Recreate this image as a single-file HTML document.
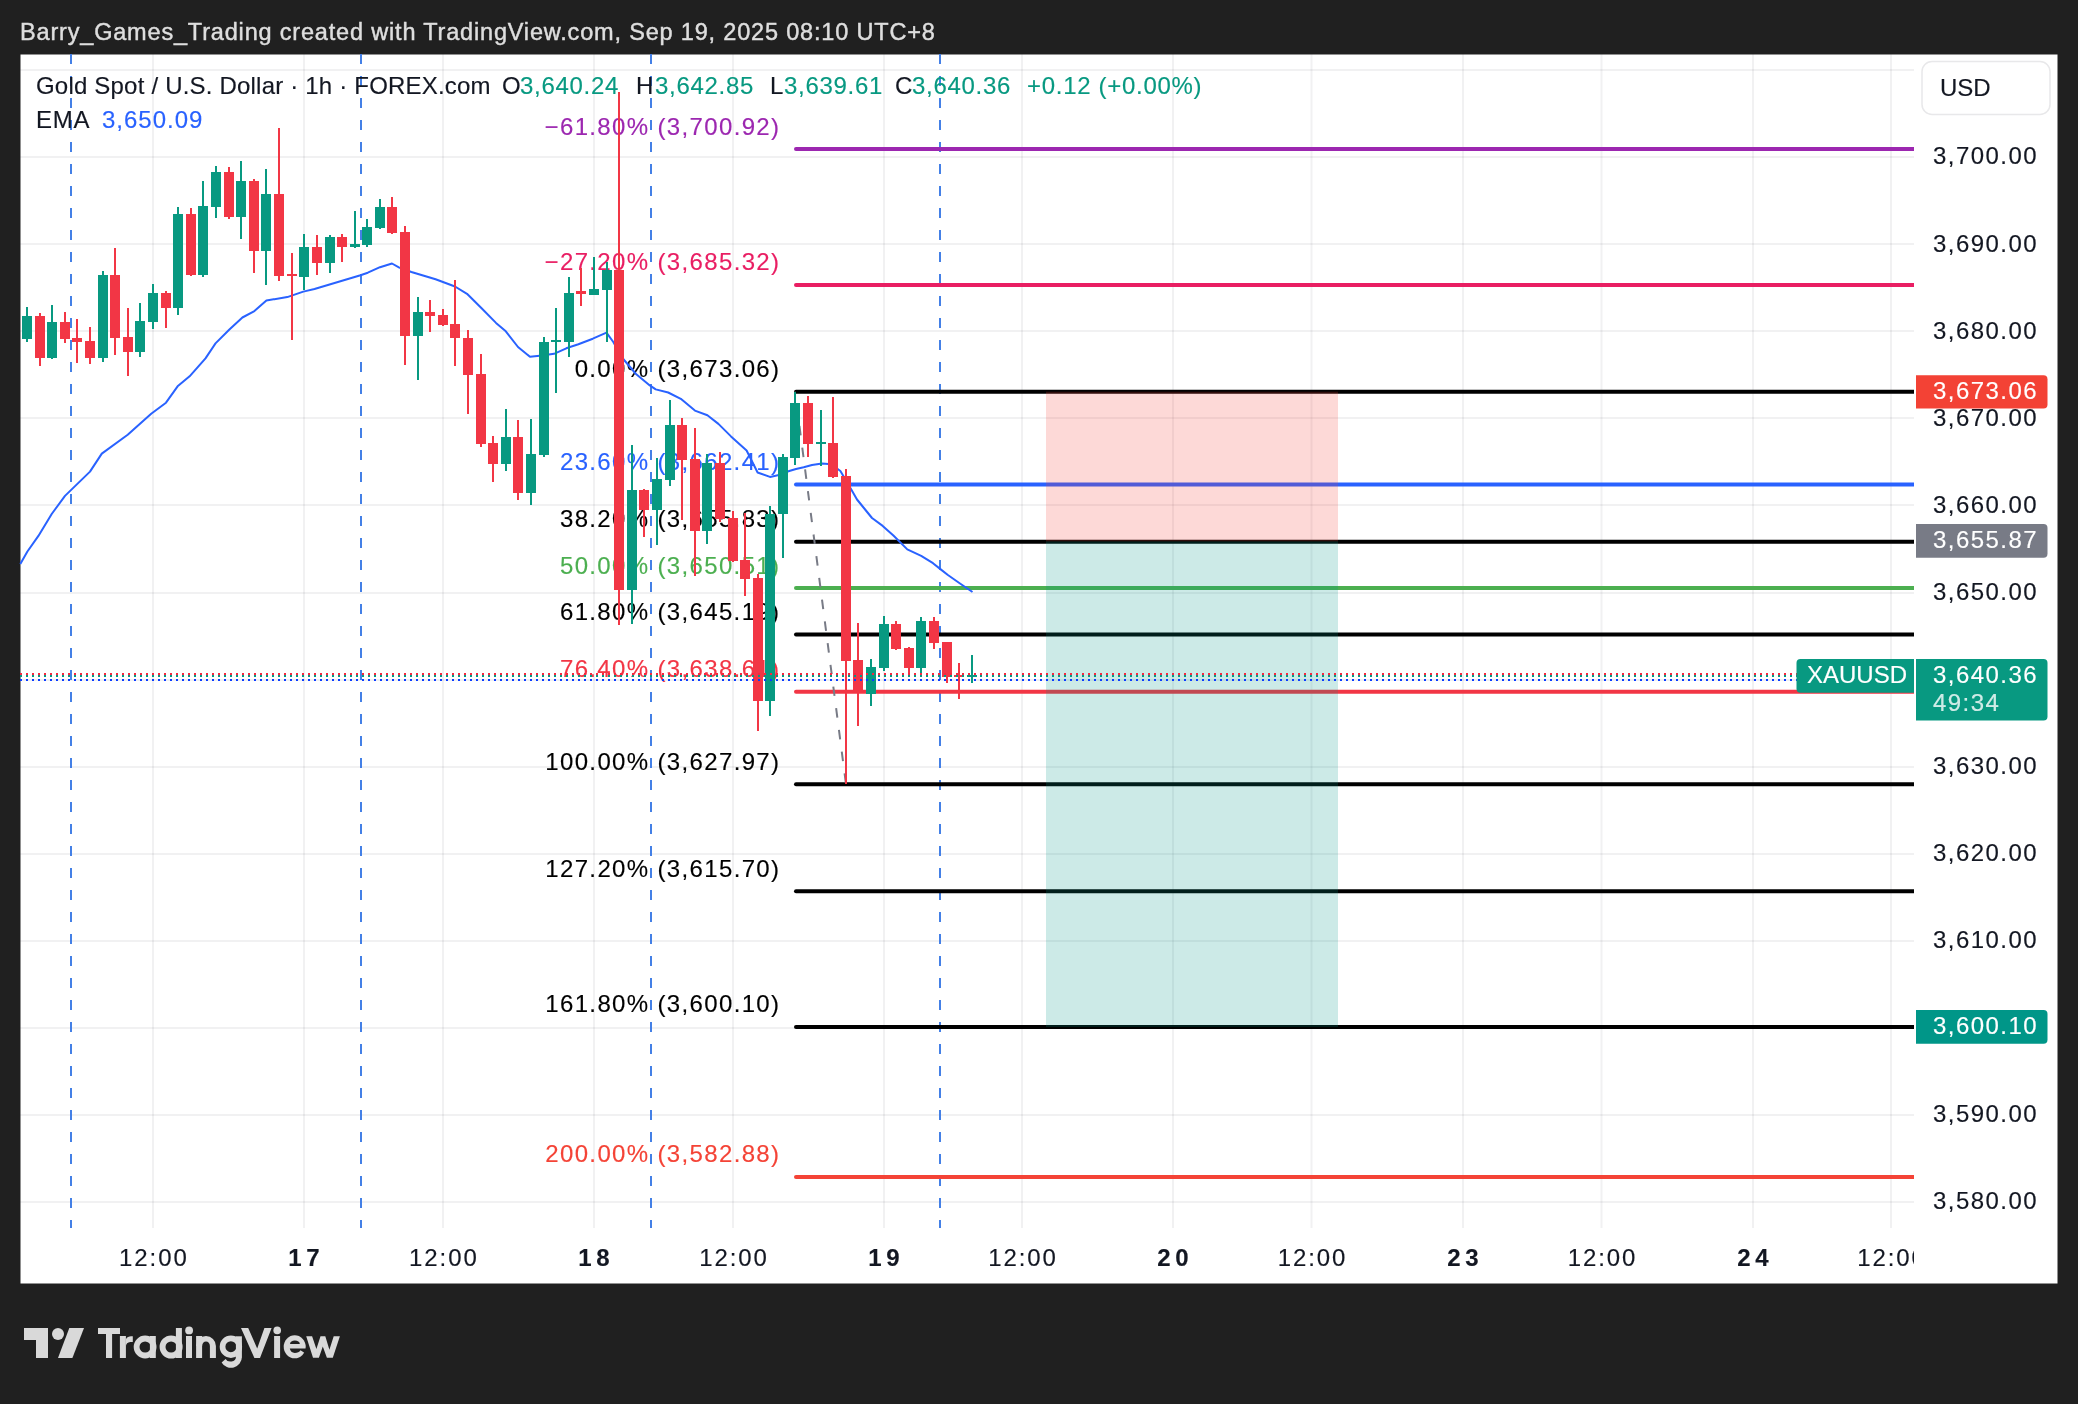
<!DOCTYPE html><html><head><meta charset="utf-8"><style>html,body{margin:0;padding:0;background:#202020;}body{width:2078px;height:1404px;overflow:hidden;}svg{display:block;}text{font-family:"Liberation Sans",sans-serif;will-change:transform;}</style></head><body>
<svg width="2078" height="1404" viewBox="0 0 2078 1404">
<rect x="0" y="0" width="2078" height="1404" fill="#202020"/>
<rect x="20.5" y="54.5" width="2037" height="1229" fill="#ffffff"/>
<g fill="rgba(42,46,57,0.065)">
<rect x="20" y="69" width="1894" height="2"/>
<rect x="20" y="156" width="1894" height="2"/>
<rect x="20" y="243" width="1894" height="2"/>
<rect x="20" y="330" width="1894" height="2"/>
<rect x="20" y="417" width="1894" height="2"/>
<rect x="20" y="504" width="1894" height="2"/>
<rect x="20" y="592" width="1894" height="2"/>
<rect x="20" y="679" width="1894" height="2"/>
<rect x="20" y="766" width="1894" height="2"/>
<rect x="20" y="853" width="1894" height="2"/>
<rect x="20" y="940" width="1894" height="2"/>
<rect x="20" y="1027" width="1894" height="2"/>
<rect x="20" y="1114" width="1894" height="2"/>
<rect x="20" y="1201" width="1894" height="2"/>
<rect x="152" y="54" width="2" height="1174"/>
<rect x="303" y="54" width="2" height="1174"/>
<rect x="442" y="54" width="2" height="1174"/>
<rect x="593" y="54" width="2" height="1174"/>
<rect x="732" y="54" width="2" height="1174"/>
<rect x="883" y="54" width="2" height="1174"/>
<rect x="1021" y="54" width="2" height="1174"/>
<rect x="1172" y="54" width="2" height="1174"/>
<rect x="1310.5" y="54" width="2" height="1174"/>
<rect x="1462" y="54" width="2" height="1174"/>
<rect x="1600.5" y="54" width="2" height="1174"/>
<rect x="1752" y="54" width="2" height="1174"/>
<rect x="1890" y="54" width="2" height="1174"/>
</g>
<g stroke="#4480e6" stroke-width="2" stroke-dasharray="10 12">
<line x1="71" y1="54" x2="71" y2="1228"/>
<line x1="361" y1="54" x2="361" y2="1228"/>
<line x1="651" y1="54" x2="651" y2="1228"/>
<line x1="940" y1="54" x2="940" y2="1228"/>
</g>
<clipPath id="pc"><rect x="20" y="54" width="1894" height="1174"/></clipPath>
<g stroke-width="4" stroke-linecap="round" clip-path="url(#pc)">
<line x1="796" y1="149.1" x2="1920" y2="149.1" stroke="#9c27b0"/>
<line x1="796" y1="284.9" x2="1920" y2="284.9" stroke="#e91e63"/>
<line x1="796" y1="391.7" x2="1920" y2="391.7" stroke="#000000"/>
<line x1="796" y1="484.4" x2="1920" y2="484.4" stroke="#2962ff"/>
<line x1="796" y1="541.7" x2="1920" y2="541.7" stroke="#000000"/>
<line x1="796" y1="588.1" x2="1920" y2="588.1" stroke="#4caf50"/>
<line x1="796" y1="634.4" x2="1920" y2="634.4" stroke="#000000"/>
<line x1="796" y1="691.7" x2="1920" y2="691.7" stroke="#f23645"/>
<line x1="796" y1="784.3" x2="1920" y2="784.3" stroke="#000000"/>
<line x1="796" y1="891.2" x2="1920" y2="891.2" stroke="#000000"/>
<line x1="796" y1="1027.0" x2="1920" y2="1027.0" stroke="#000000"/>
<line x1="796" y1="1177.0" x2="1920" y2="1177.0" stroke="#f44336"/>
</g>
<rect x="1046" y="391.7" width="292" height="149.7" fill="rgba(244,67,54,0.2)"/>
<rect x="1046" y="541.4" width="292" height="485.6" fill="rgba(0,150,136,0.2)"/>
<g font-size="24" text-anchor="end" letter-spacing="1.35">
<text x="780.4" y="134.5" fill="#9c27b0" stroke="#9c27b0" stroke-width="0.15">−61.80% (3,700.92)</text>
<text x="780.4" y="270.3" fill="#e91e63" stroke="#e91e63" stroke-width="0.15">−27.20% (3,685.32)</text>
<text x="780.4" y="377.1" fill="#000000" stroke="#000000" stroke-width="0.15">0.00% (3,673.06)</text>
<text x="780.4" y="469.8" fill="#2962ff" stroke="#2962ff" stroke-width="0.15">23.60% (3,662.41)</text>
<text x="780.4" y="527.1" fill="#000000" stroke="#000000" stroke-width="0.15">38.20% (3,655.83)</text>
<text x="780.4" y="573.5" fill="#4caf50" stroke="#4caf50" stroke-width="0.15">50.00% (3,650.51)</text>
<text x="780.4" y="619.8" fill="#000000" stroke="#000000" stroke-width="0.15">61.80% (3,645.19)</text>
<text x="780.4" y="677.1" fill="#f23645" stroke="#f23645" stroke-width="0.15">76.40% (3,638.61)</text>
<text x="780.4" y="769.7" fill="#000000" stroke="#000000" stroke-width="0.15">100.00% (3,627.97)</text>
<text x="780.4" y="876.6" fill="#000000" stroke="#000000" stroke-width="0.15">127.20% (3,615.70)</text>
<text x="780.4" y="1012.4" fill="#000000" stroke="#000000" stroke-width="0.15">161.80% (3,600.10)</text>
<text x="780.4" y="1162.4" fill="#f44336" stroke="#f44336" stroke-width="0.15">200.00% (3,582.88)</text>
</g>
<line x1="846" y1="784.3" x2="795" y2="391.7" stroke="#787b86" stroke-width="2" stroke-dasharray="9.5 12.4" stroke-dashoffset="-1.5"/>
<polyline points="20.3,564 27.4,551.5 38.4,535.9 51.7,514 65,495.9 90,471.6 101.8,453.6 127.7,434.8 151.2,413.7 166,402.7 177.6,386.3 189.6,376.3 205.5,358.4 215.5,343.4 229.4,329.5 242.4,317.5 254.4,311.1 266.4,300.5 287.3,297.1 303.3,291.6 314.5,289 360.5,275.2 367.8,272.7 380,267.2 392,263.5 399.3,267.6 411.4,272 435.6,279.3 455,286.5 467,293.8 481.6,308.3 496,322.9 505.8,331.3 518,347 530,356.8 542,355.5 554,353.8 566.3,348.3 578.4,344.2 592.8,338.7 606.5,332.6 613.3,342 622.4,358 636,374 649.8,385.4 655.7,389.4 668.2,392.5 680.8,398.8 694.9,410.6 707.4,415.3 718.4,423.9 731,436.4 746.6,450.5 757.6,472.5 770,476.9 780,474.8 788.4,471.3 796,469 803.7,467.2 812,465 822,463.4 831.3,464.3 840.4,471 851,489 857,499.5 872,518 882.7,525.9 893.4,535.5 907.3,549.4 921.2,555.8 933,563.2 940.4,569.1 947.9,575 960,583.5 972.5,592" fill="none" stroke="#2962ff" stroke-width="2" stroke-linejoin="round"/>
<rect x="26" y="307" width="2" height="35" fill="#089981"/>
<rect x="22" y="316" width="10" height="23" fill="#089981"/>
<rect x="39" y="313" width="2" height="53" fill="#f23645"/>
<rect x="35" y="316" width="10" height="42" fill="#f23645"/>
<rect x="51" y="305" width="2" height="54" fill="#089981"/>
<rect x="47" y="322" width="10" height="36" fill="#089981"/>
<rect x="64" y="312" width="2" height="31" fill="#f23645"/>
<rect x="60" y="322" width="10" height="17" fill="#f23645"/>
<rect x="76" y="319" width="2" height="44" fill="#f23645"/>
<rect x="72" y="338" width="10" height="4" fill="#f23645"/>
<rect x="89" y="327" width="2" height="37" fill="#f23645"/>
<rect x="85" y="341" width="10" height="17" fill="#f23645"/>
<rect x="102" y="271" width="2" height="91" fill="#089981"/>
<rect x="98" y="275" width="10" height="83" fill="#089981"/>
<rect x="114" y="248" width="2" height="107" fill="#f23645"/>
<rect x="110" y="275" width="10" height="63" fill="#f23645"/>
<rect x="127" y="308" width="2" height="68" fill="#f23645"/>
<rect x="123" y="337" width="10" height="15" fill="#f23645"/>
<rect x="139" y="303" width="2" height="54" fill="#089981"/>
<rect x="135" y="321" width="10" height="31" fill="#089981"/>
<rect x="152" y="284" width="2" height="45" fill="#089981"/>
<rect x="148" y="293" width="10" height="29" fill="#089981"/>
<rect x="165" y="291" width="2" height="37" fill="#f23645"/>
<rect x="161" y="293" width="10" height="15" fill="#f23645"/>
<rect x="177" y="207" width="2" height="108" fill="#089981"/>
<rect x="173" y="214" width="10" height="94" fill="#089981"/>
<rect x="190" y="208" width="2" height="68" fill="#f23645"/>
<rect x="186" y="214" width="10" height="61" fill="#f23645"/>
<rect x="202" y="181" width="2" height="96" fill="#089981"/>
<rect x="198" y="206" width="10" height="69" fill="#089981"/>
<rect x="215" y="166" width="2" height="52" fill="#089981"/>
<rect x="211" y="172" width="10" height="35" fill="#089981"/>
<rect x="228" y="167" width="2" height="52" fill="#f23645"/>
<rect x="224" y="172" width="10" height="45" fill="#f23645"/>
<rect x="240" y="161" width="2" height="78" fill="#089981"/>
<rect x="236" y="181" width="10" height="36" fill="#089981"/>
<rect x="253" y="179" width="2" height="94" fill="#f23645"/>
<rect x="249" y="181" width="10" height="70" fill="#f23645"/>
<rect x="265" y="169" width="2" height="116" fill="#089981"/>
<rect x="261" y="194" width="10" height="57" fill="#089981"/>
<rect x="278" y="128" width="2" height="153" fill="#f23645"/>
<rect x="274" y="194" width="10" height="82" fill="#f23645"/>
<rect x="291" y="253" width="2" height="87" fill="#f23645"/>
<rect x="287" y="274" width="10" height="2" fill="#f23645"/>
<rect x="303" y="234" width="2" height="56" fill="#089981"/>
<rect x="299" y="247" width="10" height="30" fill="#089981"/>
<rect x="316" y="235" width="2" height="40" fill="#f23645"/>
<rect x="312" y="247" width="10" height="16" fill="#f23645"/>
<rect x="329" y="235" width="2" height="38" fill="#089981"/>
<rect x="325" y="237" width="10" height="26" fill="#089981"/>
<rect x="341" y="234" width="2" height="28" fill="#f23645"/>
<rect x="337" y="237" width="10" height="10" fill="#f23645"/>
<rect x="354" y="211" width="2" height="37" fill="#089981"/>
<rect x="350" y="244" width="10" height="3" fill="#089981"/>
<rect x="366" y="219" width="2" height="28" fill="#089981"/>
<rect x="362" y="227" width="10" height="18" fill="#089981"/>
<rect x="379" y="199" width="2" height="30" fill="#089981"/>
<rect x="375" y="207" width="10" height="21" fill="#089981"/>
<rect x="391" y="197" width="2" height="37" fill="#f23645"/>
<rect x="387" y="207" width="10" height="26" fill="#f23645"/>
<rect x="404" y="226" width="2" height="139" fill="#f23645"/>
<rect x="400" y="232" width="10" height="104" fill="#f23645"/>
<rect x="417" y="297" width="2" height="83" fill="#089981"/>
<rect x="413" y="312" width="10" height="24" fill="#089981"/>
<rect x="429" y="300" width="2" height="32" fill="#f23645"/>
<rect x="425" y="312" width="10" height="4" fill="#f23645"/>
<rect x="442" y="309" width="2" height="17" fill="#f23645"/>
<rect x="438" y="315" width="10" height="10" fill="#f23645"/>
<rect x="454" y="280" width="2" height="86" fill="#f23645"/>
<rect x="450" y="324" width="10" height="14" fill="#f23645"/>
<rect x="467" y="330" width="2" height="84" fill="#f23645"/>
<rect x="463" y="338" width="10" height="37" fill="#f23645"/>
<rect x="480" y="354" width="2" height="93" fill="#f23645"/>
<rect x="476" y="374" width="10" height="70" fill="#f23645"/>
<rect x="492" y="436" width="2" height="46" fill="#f23645"/>
<rect x="488" y="443" width="10" height="21" fill="#f23645"/>
<rect x="505" y="409" width="2" height="62" fill="#089981"/>
<rect x="501" y="437" width="10" height="27" fill="#089981"/>
<rect x="517" y="420" width="2" height="80" fill="#f23645"/>
<rect x="513" y="437" width="10" height="56" fill="#f23645"/>
<rect x="530" y="419" width="2" height="86" fill="#089981"/>
<rect x="526" y="454" width="10" height="39" fill="#089981"/>
<rect x="543" y="337" width="2" height="120" fill="#089981"/>
<rect x="539" y="342" width="10" height="113" fill="#089981"/>
<rect x="555" y="308" width="2" height="85" fill="#089981"/>
<rect x="551" y="340" width="10" height="2" fill="#089981"/>
<rect x="568" y="277" width="2" height="80" fill="#089981"/>
<rect x="564" y="293" width="10" height="49" fill="#089981"/>
<rect x="580" y="268" width="2" height="38" fill="#f23645"/>
<rect x="576" y="291" width="10" height="3" fill="#f23645"/>
<rect x="593" y="257" width="2" height="38" fill="#089981"/>
<rect x="589" y="289" width="10" height="6" fill="#089981"/>
<rect x="606" y="262" width="2" height="80" fill="#089981"/>
<rect x="602" y="270" width="10" height="20" fill="#089981"/>
<rect x="618" y="92" width="2" height="533" fill="#f23645"/>
<rect x="614" y="270" width="10" height="320" fill="#f23645"/>
<rect x="631" y="445" width="2" height="179" fill="#089981"/>
<rect x="627" y="490" width="10" height="100" fill="#089981"/>
<rect x="643" y="489" width="2" height="48" fill="#f23645"/>
<rect x="639" y="490" width="10" height="20" fill="#f23645"/>
<rect x="656" y="458" width="2" height="87" fill="#089981"/>
<rect x="652" y="479" width="10" height="31" fill="#089981"/>
<rect x="669" y="400" width="2" height="86" fill="#089981"/>
<rect x="665" y="425" width="10" height="55" fill="#089981"/>
<rect x="681" y="418" width="2" height="102" fill="#f23645"/>
<rect x="677" y="425" width="10" height="35" fill="#f23645"/>
<rect x="694" y="428" width="2" height="148" fill="#f23645"/>
<rect x="690" y="459" width="10" height="72" fill="#f23645"/>
<rect x="706" y="454" width="2" height="90" fill="#089981"/>
<rect x="702" y="463" width="10" height="68" fill="#089981"/>
<rect x="719" y="452" width="2" height="70" fill="#f23645"/>
<rect x="715" y="463" width="10" height="56" fill="#f23645"/>
<rect x="732" y="511" width="2" height="51" fill="#f23645"/>
<rect x="728" y="518" width="10" height="43" fill="#f23645"/>
<rect x="744" y="513" width="2" height="83" fill="#f23645"/>
<rect x="740" y="560" width="10" height="19" fill="#f23645"/>
<rect x="757" y="574" width="2" height="157" fill="#f23645"/>
<rect x="753" y="578" width="10" height="123" fill="#f23645"/>
<rect x="769" y="506" width="2" height="210" fill="#089981"/>
<rect x="765" y="514" width="10" height="187" fill="#089981"/>
<rect x="782" y="454" width="2" height="104" fill="#089981"/>
<rect x="778" y="457" width="10" height="57" fill="#089981"/>
<rect x="794" y="392" width="2" height="73" fill="#089981"/>
<rect x="790" y="403" width="10" height="55" fill="#089981"/>
<rect x="807" y="396" width="2" height="61" fill="#f23645"/>
<rect x="803" y="403" width="10" height="41" fill="#f23645"/>
<rect x="820" y="410" width="2" height="56" fill="#089981"/>
<rect x="816" y="442" width="10" height="2" fill="#089981"/>
<rect x="832" y="397" width="2" height="81" fill="#f23645"/>
<rect x="828" y="443" width="10" height="34" fill="#f23645"/>
<rect x="845" y="469" width="2" height="315" fill="#f23645"/>
<rect x="841" y="476" width="10" height="185" fill="#f23645"/>
<rect x="857" y="623" width="2" height="103" fill="#f23645"/>
<rect x="853" y="660" width="10" height="32" fill="#f23645"/>
<rect x="870" y="659" width="2" height="47" fill="#089981"/>
<rect x="866" y="667" width="10" height="27" fill="#089981"/>
<rect x="883" y="616" width="2" height="55" fill="#089981"/>
<rect x="879" y="624" width="10" height="44" fill="#089981"/>
<rect x="895" y="621" width="2" height="29" fill="#f23645"/>
<rect x="891" y="624" width="10" height="25" fill="#f23645"/>
<rect x="908" y="647" width="2" height="28" fill="#f23645"/>
<rect x="904" y="648" width="10" height="20" fill="#f23645"/>
<rect x="920" y="617" width="2" height="57" fill="#089981"/>
<rect x="916" y="621" width="10" height="47" fill="#089981"/>
<rect x="933" y="617" width="2" height="32" fill="#f23645"/>
<rect x="929" y="621" width="10" height="22" fill="#f23645"/>
<rect x="946" y="642" width="2" height="41" fill="#f23645"/>
<rect x="942" y="642" width="10" height="35" fill="#f23645"/>
<rect x="958" y="663" width="2" height="36" fill="#f23645"/>
<rect x="954" y="675" width="10" height="2" fill="#f23645"/>
<rect x="971" y="655" width="2" height="28" fill="#089981"/>
<rect x="967" y="675" width="10" height="2" fill="#089981"/>
<line x1="20" y1="674" x2="1797" y2="674" stroke="#f7263f" stroke-width="2" stroke-dasharray="2 4"/>
<line x1="20" y1="676" x2="1797" y2="676" stroke="#089981" stroke-width="2" stroke-dasharray="2 4"/>
<line x1="20" y1="680" x2="1797" y2="680" stroke="#0a3cff" stroke-width="2" stroke-dasharray="2 4"/>
<g font-size="24" fill="#131722" letter-spacing="0.7">
<text x="36" y="93.7" letter-spacing="0.2" stroke="#131722" stroke-width="0.15">Gold Spot / U.S. Dollar · 1h · FOREX.com</text>
<text x="502" y="93.7" stroke="#131722" stroke-width="0.15">O</text><text x="520" y="93.7" fill="#089981" stroke="#089981" stroke-width="0.15">3,640.24</text>
<text x="636" y="93.7" stroke="#131722" stroke-width="0.15">H</text><text x="655" y="93.7" fill="#089981" stroke="#089981" stroke-width="0.15">3,642.85</text>
<text x="770" y="93.7" stroke="#131722" stroke-width="0.15">L</text><text x="784" y="93.7" fill="#089981" stroke="#089981" stroke-width="0.15">3,639.61</text>
<text x="895" y="93.7" stroke="#131722" stroke-width="0.15">C</text><text x="912" y="93.7" fill="#089981" stroke="#089981" stroke-width="0.15">3,640.36</text>
<text x="1027" y="93.7" fill="#089981" stroke="#089981" stroke-width="0.15">+0.12 (+0.00%)</text>
<text x="36" y="127.9" stroke="#131722" stroke-width="0.15">EMA</text><text x="102" y="127.9" fill="#2962ff" letter-spacing="1" stroke="#2962ff" stroke-width="0.15">3,650.09</text>
</g>
<rect x="1922" y="61.5" width="128" height="53" rx="10" fill="#fff" stroke="#e8e8ea" stroke-width="1.5"/>
<text x="1940" y="96" font-size="24" fill="#131722" stroke="#131722" stroke-width="0.15">USD</text>
<g font-size="24" fill="#131722" letter-spacing="1.45">
<text x="1933" y="164.4" stroke="#131722" stroke-width="0.15">3,700.00</text>
<text x="1933" y="251.5" stroke="#131722" stroke-width="0.15">3,690.00</text>
<text x="1933" y="338.6" stroke="#131722" stroke-width="0.15">3,680.00</text>
<text x="1933" y="425.6" stroke="#131722" stroke-width="0.15">3,670.00</text>
<text x="1933" y="512.7" stroke="#131722" stroke-width="0.15">3,660.00</text>
<text x="1933" y="599.8" stroke="#131722" stroke-width="0.15">3,650.00</text>
<text x="1933" y="774.0" stroke="#131722" stroke-width="0.15">3,630.00</text>
<text x="1933" y="861.0" stroke="#131722" stroke-width="0.15">3,620.00</text>
<text x="1933" y="948.1" stroke="#131722" stroke-width="0.15">3,610.00</text>
<text x="1933" y="1035.2" stroke="#131722" stroke-width="0.15">3,600.00</text>
<text x="1933" y="1122.3" stroke="#131722" stroke-width="0.15">3,590.00</text>
<text x="1933" y="1209.4" stroke="#131722" stroke-width="0.15">3,580.00</text>
</g>
<path d="M1916 375.2 H2043.5 a4 4 0 0 1 4 4 V404.5 a4 4 0 0 1 -4 4 H1916 Z" fill="#f34235"/>
<text x="1933" y="398.9" font-size="24" fill="#fff" letter-spacing="1.45" stroke="#fff" stroke-width="0.15">3,673.06</text>
<path d="M1916 524 H2043.5 a4 4 0 0 1 4 4 V553.8 a4 4 0 0 1 -4 4 H1916 Z" fill="#787b86"/>
<text x="1933" y="547.9" font-size="24" fill="#fff" letter-spacing="1.45" stroke="#fff" stroke-width="0.15">3,655.87</text>
<path d="M1916 1010.1 H2043.5 a4 4 0 0 1 4 4 V1039.8 a4 4 0 0 1 -4 4 H1916 Z" fill="#009688"/>
<text x="1933" y="1034.0" font-size="24" fill="#fff" letter-spacing="1.45" stroke="#fff" stroke-width="0.15">3,600.10</text>
<path d="M1916 659 H2043.5 a4 4 0 0 1 4 4 V716.5 a4 4 0 0 1 -4 4 H1916 Z" fill="#089981"/>
<text x="1933" y="682.7" font-size="24" fill="#fff" letter-spacing="1.45" stroke="#fff" stroke-width="0.15">3,640.36</text>
<text x="1933" y="711" font-size="24" fill="rgba(255,255,255,0.8)" letter-spacing="1.45" stroke="rgba(255,255,255,0.8)" stroke-width="0.15">49:34</text>
<path d="M1800.5 659 H1914 V692.8 H1800.5 a4 4 0 0 1 -4 -4 V663 a4 4 0 0 1 4 -4 Z" fill="#089981"/>
<text x="1807" y="682.7" font-size="24" fill="#fff" letter-spacing="0" stroke="#fff" stroke-width="0.15">XAUUSD</text>
<g font-size="24" fill="#131722" text-anchor="middle">
<clipPath id="tc"><rect x="20" y="1228" width="1894" height="60"/></clipPath><g clip-path="url(#tc)">
<text x="153.9" y="1266" letter-spacing="1.9" stroke="#131722" stroke-width="0.15">12:00</text>
<text x="306.2" y="1266" font-weight="bold" letter-spacing="4.5" stroke="#131722" stroke-width="0.15">17</text>
<text x="443.9" y="1266" letter-spacing="1.9" stroke="#131722" stroke-width="0.15">12:00</text>
<text x="596.2" y="1266" font-weight="bold" letter-spacing="4.5" stroke="#131722" stroke-width="0.15">18</text>
<text x="734.0" y="1266" letter-spacing="1.9" stroke="#131722" stroke-width="0.15">12:00</text>
<text x="886.2" y="1266" font-weight="bold" letter-spacing="4.5" stroke="#131722" stroke-width="0.15">19</text>
<text x="1023.0" y="1266" letter-spacing="1.9" stroke="#131722" stroke-width="0.15">12:00</text>
<text x="1175.2" y="1266" font-weight="bold" letter-spacing="4.5" stroke="#131722" stroke-width="0.15">20</text>
<text x="1312.5" y="1266" letter-spacing="1.9" stroke="#131722" stroke-width="0.15">12:00</text>
<text x="1465.2" y="1266" font-weight="bold" letter-spacing="4.5" stroke="#131722" stroke-width="0.15">23</text>
<text x="1602.5" y="1266" letter-spacing="1.9" stroke="#131722" stroke-width="0.15">12:00</text>
<text x="1755.2" y="1266" font-weight="bold" letter-spacing="4.5" stroke="#131722" stroke-width="0.15">24</text>
<text x="1892.0" y="1266" letter-spacing="1.9" stroke="#131722" stroke-width="0.15">12:00</text>
</g></g>
<text x="20" y="39.8" font-size="23.5" letter-spacing="0.82" fill="#dedede" stroke="#dedede" stroke-width="0.45">Barry_Games_Trading created with TradingView.com, Sep 19, 2025 08:10 UTC+8</text>
<g fill="#d9d9d9">
<path d="M24 1328 H48 V1358 H36 V1340 H24 Z"/>
<circle cx="58" cy="1334" r="6"/>
<path d="M69.3 1328 H84 L72.4 1358 H58 Z"/>
<rect x="98" y="1328" width="22" height="6"/><rect x="106" y="1334" width="6.1" height="24"/>
<rect x="119.9" y="1336" width="6" height="22"/>
<path d="M125.9,1339.2 C127,1337.2 129,1336.3 131,1336.3 H132.8 V1341.9 H130.2 C127.8,1342 125.9,1344 125.9,1346.2 Z"/>
<path fill-rule="evenodd" d="M133.7,1347 A11.4,11.4 0 1 0 156.5,1347 A11.4,11.4 0 1 0 133.7,1347 Z M139.5,1347 A5.6,5.6 0 1 0 150.7,1347 A5.6,5.6 0 1 0 139.5,1347 Z"/><rect x="149.9" y="1336" width="5.9" height="22"/>
<path fill-rule="evenodd" d="M159.6,1347 A11.5,11.5 0 1 0 182.6,1347 A11.5,11.5 0 1 0 159.6,1347 Z M165.5,1347 A5.6,5.6 0 1 0 176.7,1347 A5.6,5.6 0 1 0 165.5,1347 Z"/><rect x="175.9" y="1328" width="6" height="30"/>
<circle cx="189.1" cy="1330.4" r="3.9"/><rect x="186" y="1336" width="6" height="22"/>
<rect x="196.1" y="1336" width="6" height="22"/>
<path d="M196.1,1346 A9.9,10 0 0 1 215.9,1346 V1358 H209.9 V1346 A3.9,4.6 0 0 0 202.1,1346 Z"/>
<path fill-rule="evenodd" d="M219.70000000000002,1346.7 A11.2,11.2 0 1 0 242.1,1346.7 A11.2,11.2 0 1 0 219.70000000000002,1346.7 Z M225.4,1346.7 A5.5,5.5 0 1 0 236.4,1346.7 A5.5,5.5 0 1 0 225.4,1346.7 Z"/><rect x="235.9" y="1336.3" width="6" height="21"/>
<path d="M241.9,1357 A10.9,10.9 0 0 1 221.6,1362.4 L225.6,1358.9 A5.4,4.6 0 0 0 235.9,1357 Z"/>
<path d="M241,1328 H248.2 L257.2,1348.5 L264.4,1328 H271.6 L260,1358 H254.4 Z"/>
<circle cx="277.2" cy="1330.4" r="3.8"/><rect x="274.1" y="1336" width="6" height="22"/>
<ellipse cx="294.7" cy="1346.8" rx="11" ry="11.5"/>
<path fill="#202020" d="M290,1343.9 A4.9,3.4 0 0 1 299.8,1343.9 Z"/>
<path fill="#202020" d="M289.8,1348.5 H307 V1354.5 L300.5,1350.3 C299.5,1352.3 297.3,1352.9 294.8,1352.9 C292,1352.9 290.3,1351 289.8,1348.5 Z"/>
<path d="M306.2,1336.2 H312.1 L316.4,1349.1 L320.5,1336.2 H325.3 L329.4,1349.8 L333.7,1336.2 H339.9 L332.8,1357.8 H326.9 L322.8,1346.4 L318.9,1357.8 H313 Z"/>
</g>
</svg></body></html>
